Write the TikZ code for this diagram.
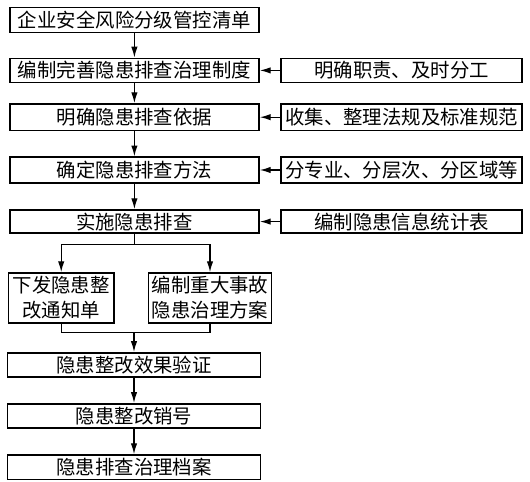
\documentclass[tikz,border=0pt]{standalone}
\usepackage{fontspec}
\setmainfont{Noto Sans CJK SC}
\usetikzlibrary{arrows.meta}
\begin{document}
\begin{tikzpicture}
\tikzstyle{every node}=[font=\fontsize{13.8pt}{17.7pt}\selectfont]
\tikzstyle{box}=[draw, line width=1.2pt, inner sep=0pt, align=center]
\tikzstyle{flow}=[line width=0.9pt, -{Latex[length=0.27cm,width=0.16cm]}]
\useasboundingbox (0,0) rectangle (13.25,-12.05);
%%%------------------------------------------------------------------------------------------------------------
\begin{scope}
\node[box,minimum width=6.23cm,minimum height=0.62cm] (b1) at (3.36,-0.5) {企业安全风险分级管控清单};
\node[box,minimum width=6.23cm,minimum height=0.6cm] (b2) at (3.36,-1.76) {编制完善隐患排查治理制度};
\node[box,minimum width=6.23cm,minimum height=0.66cm] (b3) at (3.36,-2.93) {明确隐患排查依据};
\node[box,minimum width=6.23cm,minimum height=0.64cm] (b4) at (3.36,-4.25) {确定隐患排查方法};
\node[box,minimum width=6.23cm,minimum height=0.58cm] (b5) at (3.36,-5.54) {实施隐患排查};
\draw[flow](b1)--(b2);
\draw[flow](b2)--(b3);
\draw[flow](b3)--(b4);
\draw[flow](b4)--(b5);
\end{scope}
%%%------------------------------------------------------------------------------------------------------------
\begin{scope}
\node[box,minimum width=6.03cm,minimum height=0.6cm] (r2) at (10.04,-1.76) {明确职责、及时分工};
\node[box,minimum width=6.03cm,minimum height=0.66cm] (r3) at (10.04,-2.93) {收集、整理法规及标准规范};
\node[box,minimum width=6.03cm,minimum height=0.64cm] (r4) at (10.04,-4.25) {分专业、分层次、分区域等};
\node[box,minimum width=6.03cm,minimum height=0.58cm] (r5) at (10.04,-5.54) {编制隐患信息统计表};
\foreach \i in {2,3,4,5}{\draw[flow](r\i)--(b\i);}
\end{scope}
%%%------------------------------------------------------------------------------------------------------------
\begin{scope}
\coordinate (split) at (3.36,-6.11);
\coordinate (join) at (3.35,-8.31);
\node[box,minimum width=2.63cm,minimum height=1.25cm] (l1) at (1.53,-7.45) {下发隐患整\\改通知单};
\node[box,minimum width=3.07cm,minimum height=1.25cm] (m1) at (5.25,-7.45) {编制重大事故\\隐患治理方案};
\draw[line width=0.9pt](b5)--(split);
\draw[flow](split)-|(l1);
\draw[flow](split)-|(m1);
\draw[line width=0.9pt](l1)|-(join);
\draw[line width=0.9pt](m1)|-(join);
\end{scope}
%%%------------------------------------------------------------------------------------------------------------
\begin{scope}
\node[box,minimum width=6.33cm,minimum height=0.6cm] (b6) at (3.35,-9.12) {隐患整改效果验证};
\node[box,minimum width=6.33cm,minimum height=0.61cm] (b7) at (3.35,-10.4) {隐患整改销号};
\node[box,minimum width=6.33cm,minimum height=0.61cm] (b8) at (3.35,-11.68) {隐患排查治理档案};
\draw[flow](join)--(b6);
\draw[flow](b6)--(b7);
\draw[flow](b7)--(b8);
\end{scope}
\end{tikzpicture}
\end{document}
